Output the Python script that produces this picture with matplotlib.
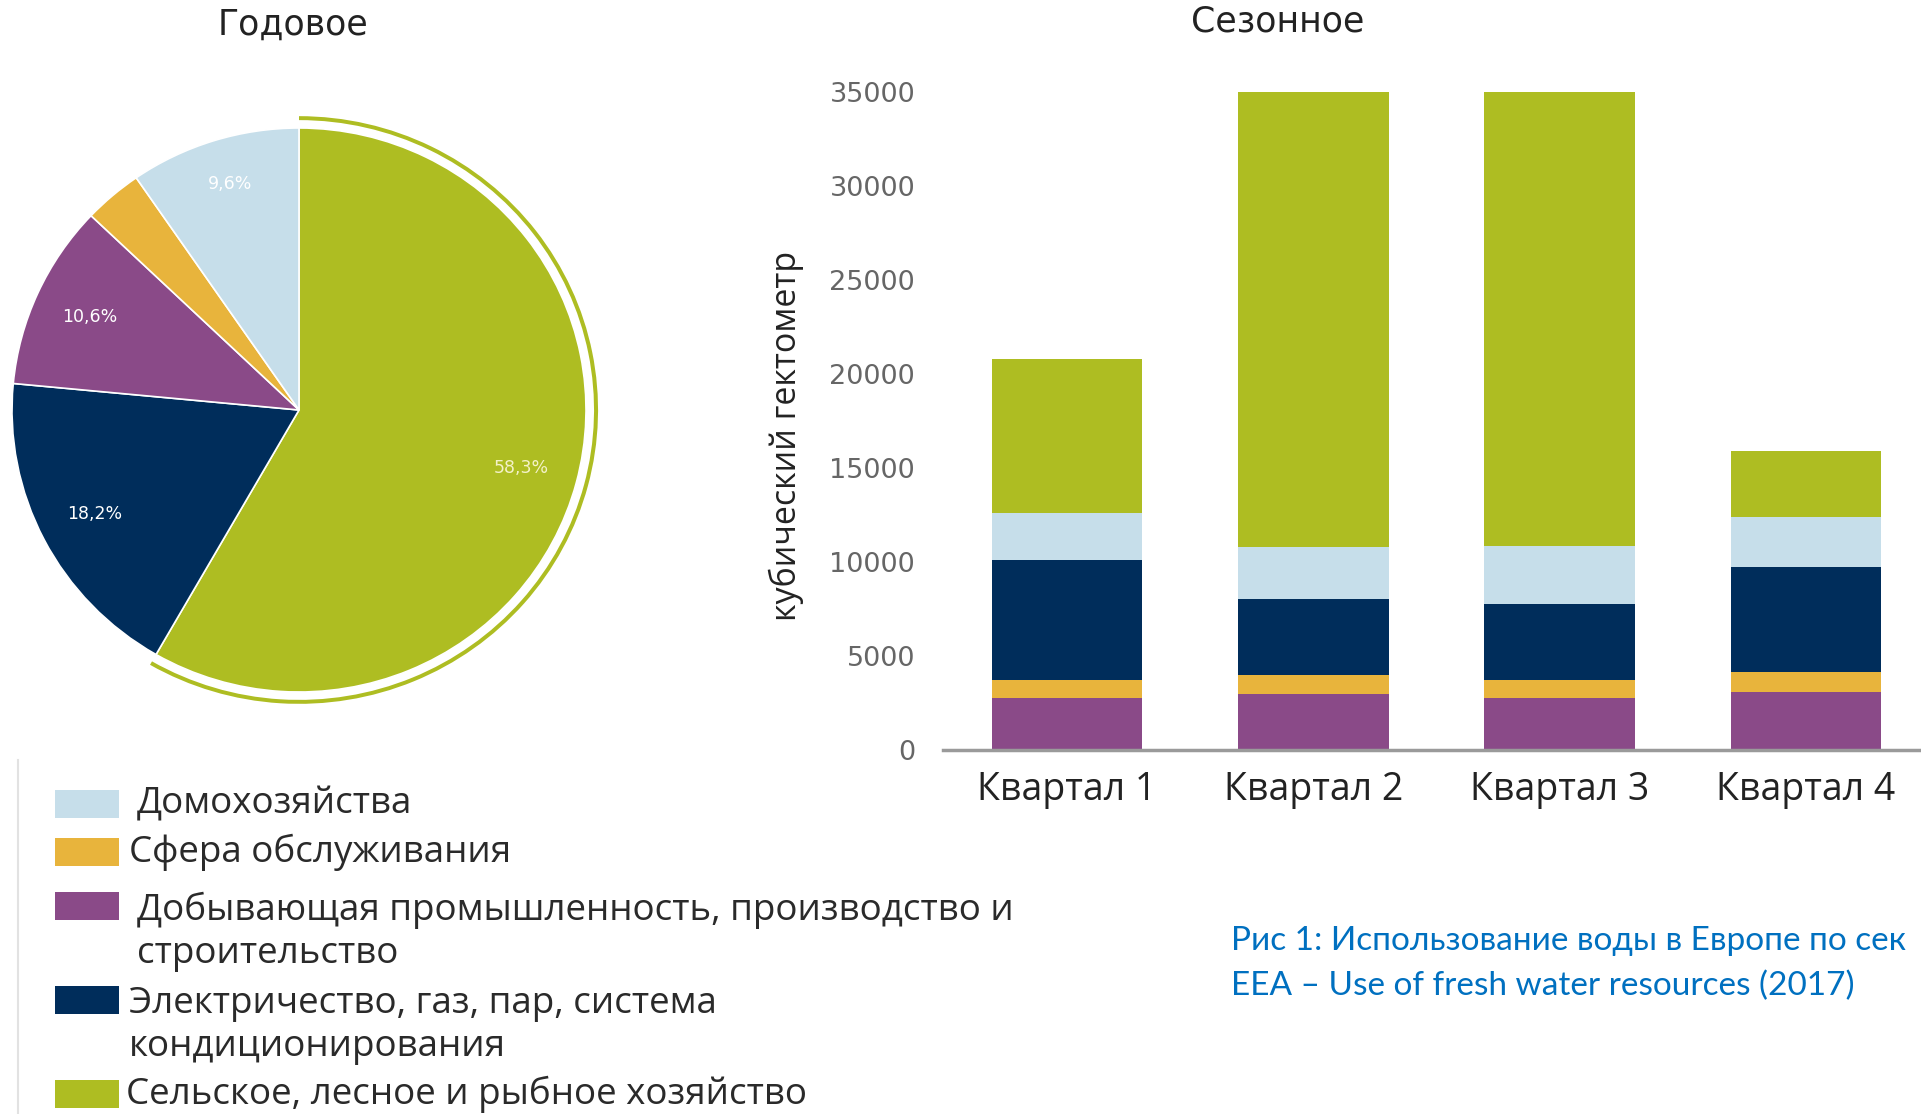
import matplotlib
matplotlib.use('Agg')
import matplotlib.pyplot as plt
from matplotlib.patches import Rectangle, Wedge
from matplotlib.lines import Line2D
import numpy as np

# Данные
sectors = ['Домохозяйства', 'Сфера обслуживания',
           'Добывающая промышленность, производство и\nстроительство',
           'Электричество, газ, пар, система\nкондиционирования',
           'Сельское, лесное и рыбное хозяйство']
colors = ['#C6DEEA', '#E8B43C', '#8A4A88', '#002D5B', '#AEBD22']

# годовое (%), порядок по часовой стрелке от верха
pie_order = [4, 3, 2, 1, 0]
pie_shares = [58.3, 18.2, 10.6, 3.3, 9.6]

# сезонное, кубический гектометр
quarters = ['Квартал 1', 'Квартал 2', 'Квартал 3', 'Квартал 4']
households = [2500, 2770, 3040, 2650]
services = [970, 1050, 1010, 1090]
industry = [2780, 2960, 2740, 3060]
energy = [6380, 4010, 4040, 5600]
agriculture = [8180, 24210, 24170, 3520]

W, H = 1921, 1114
fig = plt.figure(figsize=(W / 100, H / 100), dpi=100)
fig.patch.set_facecolor('white')


def fx(px):
    return px / W


def fy(py):
    return 1 - py / H


# ---- круговая диаграмма
cx, cy, Rx, Ry = 299, 410, 287, 282
half = 300
ax1 = fig.add_axes([fx(cx - half), fy(cy + half), 2 * half / W, 2 * half / H])
pie_colors = [colors[i] for i in pie_order]


def pct_fmt(p):
    if p < 5:
        return ''
    return f'{p:.1f}%'.replace('.', ',')


wedges, _, autotexts = ax1.pie(pie_shares, colors=pie_colors, startangle=90,
                               counterclock=False, autopct=pct_fmt, pctdistance=0.8,
                               wedgeprops=dict(edgecolor='white', linewidth=1.2),
                               textprops=dict(color='white', fontsize=12.5,
                                              family='DejaVu Sans'))
autotexts[0].set_color('#F4F2C8')
autotexts[4].set_position((-0.24, 0.8))
# кольцо вокруг выделенного сектора
g = wedges[0]
ax1.add_patch(Wedge((0, 0), 1.042, g.theta1, g.theta2, width=0.014,
                    facecolor=colors[4], edgecolor='none'))
ax1.set_xlim(-half / Rx, half / Rx)
ax1.set_ylim(-half / Ry, half / Ry)
ax1.set_aspect('auto')
ax1.axis('off')

fig.text(fx(293), fy(25), 'Годовое', ha='center', va='center',
         fontsize=25, color='#222222', family='DejaVu Sans')

# ---- столбчатая диаграмма
left_px, right_px, top_px, bottom_px = 943, 1921, 92, 750
ax2 = fig.add_axes([fx(left_px), fy(bottom_px), (right_px - left_px) / W,
                    (bottom_px - top_px) / H])
x = np.arange(len(quarters))
bottom = np.zeros(len(quarters))
for vals, c in zip([industry, services, energy, households, agriculture],
                   [colors[2], colors[1], colors[3], colors[0], colors[4]]):
    ax2.bar(x, vals, width=0.612, bottom=bottom, color=c, linewidth=0)
    bottom += np.array(vals)

ax2.set_xlim(-0.503, 3.467)
ax2.set_ylim(0, 35000)
ax2.set_yticks(range(0, 35001, 5000))
ax2.set_xticks(x)
ax2.set_xticklabels(quarters, fontsize=27, family='Open Sans', color='#222222')
ax2.tick_params(axis='y', length=0, pad=20, labelsize=19.5, labelcolor='#666666')
ax2.tick_params(axis='x', length=0, pad=15)
for s in ['top', 'right', 'left']:
    ax2.spines[s].set_visible(False)
ax2.spines['bottom'].set_color('#9A9A9A')
ax2.spines['bottom'].set_linewidth(2.5)

fig.text(fx(786), fy(436), 'кубический гектометр', rotation=90, ha='center',
         va='center', fontsize=24.5, family='Open Sans', color='#222222')
fig.text(fx(1278), fy(22), 'Сезонное', ha='center', va='center',
         fontsize=25, color='#222222', family='DejaVu Sans')

# ---- легенда
leg_rows = [(0, 804, 137), (1, 852, 129), (2, 906, 137), (3, 1000, 129), (4, 1094, 126)]
for idx, ypx, tx in leg_rows:
    fig.add_artist(Rectangle((fx(55), fy(ypx + 14)), 64 / W, 28 / H,
                             transform=fig.transFigure, facecolor=colors[idx],
                             edgecolor='none'))
    if '\n' in sectors[idx]:
        fig.text(fx(tx), fy(ypx - 14), sectors[idx], ha='left', va='top',
                 fontsize=26.5, family='Open Sans', color='#2A2A2A', linespacing=1.25)
    else:
        fig.text(fx(tx), fy(ypx), sectors[idx], ha='left', va='center',
                 fontsize=26.5, family='Open Sans', color='#2A2A2A')
fig.add_artist(Line2D([fx(18), fx(18)], [fy(760), 0], transform=fig.transFigure,
                      color='#E2E2E2', linewidth=1.5))

# ---- подпись (обрезана у правого края, как в оригинале)
fig.text(fx(1231), fy(941), 'Рис 1: Использование воды в Европе по сек',
         ha='left', va='center', fontsize=24, family='Lato', color='#0070C0')
fig.text(fx(1231), fy(986), 'EEA – Use of fresh water resources (2017)',
         ha='left', va='center', fontsize=24, family='Lato', color='#0070C0')

fig.savefig('out.png', dpi=100)
